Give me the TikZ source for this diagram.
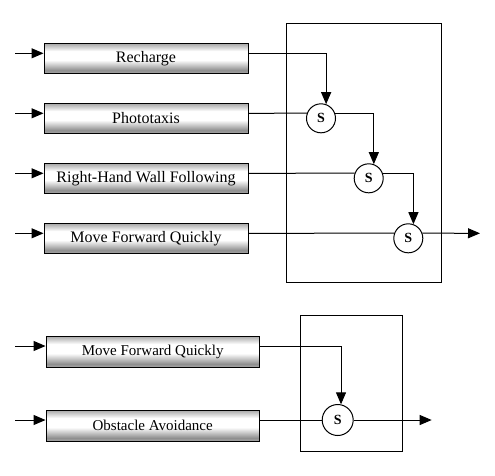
\documentclass[tikz,border=0pt]{standalone}
\usepackage{fontspec}
\setmainfont{Liberation Serif}
\usepackage{tikz}
\usetikzlibrary{shapes, arrows.meta}
\pgfdeclareverticalshading{barshade}{100bp}{color(0bp)=(black!35); color(25bp)=(black!35); color(30bp)=(black!44); color(47bp)=(white); color(62bp)=(white); color(75bp)=(black!35); color(100bp)=(black!35)}
\tikzstyle{line} = [draw, line width=1pt, -{Triangle[length=12pt,width=10pt]}]
\tikzstyle{wire} = [draw, line width=1pt]
\tikzstyle{behav}=[draw, rectangle, line width=1pt, shade, shading=barshade, minimum width=204pt, minimum height=30pt, inner sep=0pt, font=\fontsize{16}{18}\selectfont]
\tikzstyle{supp}=[draw, circle, fill=white, line width=1pt, minimum size=29pt, inner sep=0pt, font=\bfseries\fontsize{14}{16}\selectfont]
\tikzstyle{frame}=[draw, rectangle, line width=1pt, inner sep=0pt]

\begin{document}
\begin{tikzpicture}[x=1pt, y=-1pt]
		\useasboundingbox (0,0) rectangle (495,475);
		\node[frame, minimum width=155pt, minimum height=259.4pt] (arb1) at (364.2,153) {};
		\node[behav] (rech) at (146,58.3) {Recharge};
		\node[behav] (photo) at (146,118.3) {Phototaxis};
		\node[behav] (rhwf) at (146,178.3) {Right-Hand Wall Following};
		\node[behav] (mfq) at (146,238.3) {Move Forward Quickly};
		\node[supp] (s1) at (321,118.3) {S};
		\node[supp] (s2) at (368.7,178.3) {S};
		\node[supp] (s3) at (408.3,238.3) {S};
		\coordinate (in1) at (15,53.3);
		\coordinate (in2) at (15,113.3);
		\coordinate (in3) at (15,173.3);
		\coordinate (in4) at (15,233.3);
		\coordinate (out1) at (480,233.3);
		\draw[line] (in1) -- ([yshift=5pt]rech.west);
		\draw[line] (in2) -- ([yshift=5pt]photo.west);
		\draw[line] (in3) -- ([yshift=5pt]rhwf.west);
		\draw[line] (in4) -- ([yshift=5pt]mfq.west);
		\draw[line] ([yshift=5pt]rech.east) -| (s1.70);
		\draw[wire] ([yshift=5pt]photo.east) -- (s1.160);
		\draw[line] (s1.20) -| (s2.70);
		\draw[wire] ([yshift=5pt]rhwf.east) -- (s2.160);
		\draw[line] (s2.20) -| (s3.70);
		\draw[wire] ([yshift=5pt]mfq.east) -- (s3.160);
		\draw[line] (s3.20) -- (out1);
	%--------------------
		\node[frame, minimum width=101.6pt, minimum height=135.7pt] (arb2) at (351.5,383.2) {};
		\node[behav, minimum width=213.3pt, minimum height=31pt, font=\fontsize{15}{17}\selectfont] (mfq2) at (152.7,351.5) {Move Forward Quickly};
		\node[behav, minimum width=213.3pt, minimum height=31pt, font=\fontsize{15}{17}\selectfont] (obst) at (152.7,425.5) {Obstacle Avoidance};
		\node[supp, minimum size=31pt] (s4) at (337.7,420) {S};
		\coordinate (in5) at (15,346);
		\coordinate (in6) at (15,420);
		\coordinate (out2) at (431.7,420);
		\draw[line] (in5) -- ([yshift=5.5pt]mfq2.west);
		\draw[line] (in6) -- ([yshift=5.5pt]obst.west);
		\draw[line] ([yshift=5.5pt]mfq2.east) -| (s4.78);
		\draw[wire] ([yshift=5.5pt]obst.east) -- (s4.west);
		\draw[line] (s4.east) -- (out2);
	\end{tikzpicture}
\end{document}
